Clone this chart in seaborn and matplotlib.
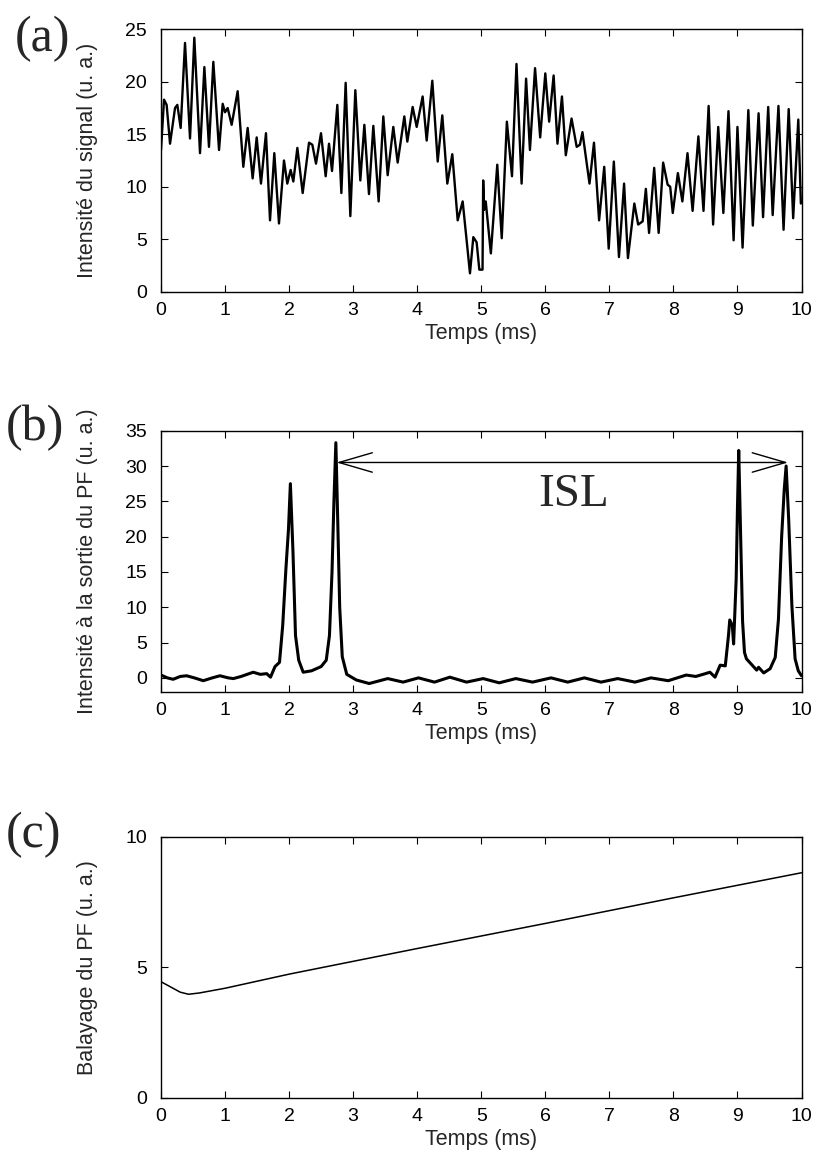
import numpy as np
import pandas as pd
import matplotlib
matplotlib.use("Agg")
import matplotlib.pyplot as plt
import seaborn as sns

# ---------------- data ----------------
# Panel (a): signal intensity, local extrema
t_a = [0.000, 0.047, 0.088, 0.141, 0.219, 0.255, 0.307, 0.375, 0.453, 0.520,
       0.609, 0.677, 0.749, 0.817, 0.906, 0.963, 0.999, 1.041, 1.103, 1.197,
       1.285, 1.353, 1.431, 1.494, 1.561, 1.639, 1.702, 1.769, 1.842, 1.920,
       1.972, 2.024, 2.066, 2.129, 2.212, 2.311, 2.363, 2.420, 2.498, 2.571,
       2.623, 2.670, 2.753, 2.816, 2.883, 2.956, 3.034, 3.112, 3.175, 3.247,
       3.315, 3.398, 3.471, 3.539, 3.627, 3.695, 3.799, 3.846, 3.929, 3.992,
       4.085, 4.148, 4.236, 4.320, 4.392, 4.470, 4.548, 4.632, 4.710, 4.824,
       4.876, 4.928, 4.970, 5.020, 5.030, 5.045, 5.070, 5.150, 5.250, 5.320,
       5.400, 5.480, 5.550, 5.630, 5.700, 5.760, 5.840, 5.920, 6.000, 6.060,
       6.130, 6.190, 6.260, 6.320, 6.410, 6.490, 6.540, 6.580, 6.690, 6.760,
       6.840, 6.920, 6.990, 7.070, 7.150, 7.230, 7.290, 7.390, 7.450, 7.520,
       7.570, 7.620, 7.700, 7.770, 7.840, 7.910, 7.950, 7.990, 8.070, 8.140,
       8.220, 8.300, 8.390, 8.470, 8.550, 8.620, 8.700, 8.780, 8.860, 8.940,
       9.000, 9.080, 9.170, 9.240, 9.330, 9.400, 9.480, 9.550, 9.640, 9.720,
       9.800, 9.870, 9.950, 9.990]
v_a = [13.5, 18.3, 17.8, 14.1, 17.5, 17.8, 15.6, 23.7, 14.6, 24.2,
       13.2, 21.4, 13.8, 21.9, 13.5, 17.9, 17.1, 17.5, 15.9, 19.1,
       11.9, 15.6, 10.8, 14.7, 10.3, 15.1, 6.8, 13.2, 6.5, 12.5,
       10.3, 11.6, 10.5, 13.7, 9.4, 14.2, 14.0, 12.2, 15.1, 11.0,
       14.1, 11.5, 17.8, 9.4, 19.9, 7.2, 19.2, 10.6, 15.9, 9.3,
       15.8, 8.6, 16.7, 11.1, 15.7, 12.3, 16.7, 14.3, 17.6, 15.7,
       18.6, 14.4, 20.1, 12.4, 16.8, 10.3, 13.1, 6.8, 8.6, 1.75,
       5.2, 4.7, 2.1, 2.1, 10.6, 7.8, 8.6, 3.65, 12.1, 5.1,
       16.2, 11.0, 21.7, 10.3, 20.3, 13.5, 21.3, 14.7, 20.8, 16.2,
       20.6, 14.1, 18.6, 13.0, 16.5, 13.8, 14.0, 15.2, 10.3, 14.2,
       6.8, 11.9, 4.1, 12.4, 3.3, 10.3, 3.2, 8.4, 6.4, 6.7,
       9.8, 5.6, 11.8, 5.6, 12.3, 10.2, 10.0, 7.5, 11.3, 8.6,
       13.2, 7.7, 14.8, 7.7, 17.7, 6.4, 15.7, 7.5, 17.2, 4.9,
       15.7, 4.2, 17.3, 6.3, 17.0, 7.1, 17.6, 7.3, 17.7, 5.9,
       17.4, 7.0, 16.4, 8.4]

# Panel (b): Fabry-Perot output intensity
t_b = [0.00, 0.10, 0.19, 0.30, 0.40, 0.52, 0.66, 0.80, 0.92, 1.05,
       1.13, 1.25, 1.44, 1.55, 1.65, 1.71, 1.78, 1.85, 1.90, 1.95,
       1.99, 2.02, 2.06, 2.10, 2.15, 2.22, 2.35, 2.50, 2.58, 2.63,
       2.67, 2.70, 2.73, 2.76, 2.79, 2.83, 2.90, 3.05, 3.25, 3.54,
       3.78, 4.02, 4.27, 4.51, 4.77, 5.03, 5.28, 5.54, 5.80, 6.09,
       6.35, 6.61, 6.87, 7.13, 7.40, 7.65, 7.92, 8.20, 8.35, 8.50,
       8.57, 8.65, 8.73, 8.81, 8.86, 8.88, 8.92, 8.94, 8.98, 9.00,
       9.02, 9.05, 9.08, 9.11, 9.14, 9.25, 9.30, 9.33, 9.41, 9.51,
       9.59, 9.64, 9.69, 9.73, 9.76, 9.80, 9.85, 9.90, 9.95, 10.00]
v_b = [0.4, 0.0, -0.2, 0.2, 0.3, 0.0, -0.4, 0.0, 0.3, 0.0,
       -0.1, 0.2, 0.8, 0.5, 0.6, 0.1, 1.6, 2.2, 7.4, 15.4,
       21.0, 27.5, 18.0, 6.0, 2.5, 0.8, 1.0, 1.6, 2.5, 6.0,
       15.0, 25.0, 33.3, 22.0, 10.0, 3.0, 0.5, -0.3, -0.8, -0.1,
       -0.6, 0.0, -0.6, 0.1, -0.6, -0.1, -0.7, -0.1, -0.6, 0.0,
       -0.6, 0.0, -0.6, -0.1, -0.6, 0.0, -0.4, 0.4, 0.2, 0.6,
       0.8, 0.1, 1.8, 1.7, 6.0, 8.2, 7.4, 4.8, 14.0, 24.0,
       32.2, 20.0, 8.0, 3.6, 2.7, 1.6, 1.1, 1.5, 0.7, 1.3,
       2.9, 8.3, 20.0, 26.6, 30.0, 22.4, 10.2, 2.7, 1.0, 0.3]

# Panel (c): Fabry-Perot sweep
t_c = [0.0, 0.15, 0.30, 0.43, 0.60, 1.0, 2.0, 4.0, 6.0, 8.0, 10.0]
v_c = [4.45, 4.25, 4.05, 3.97, 4.02, 4.20, 4.74, 5.72, 6.68, 7.66, 8.62]

# Annotation: free spectral range arrow
isl_t = [2.74, 9.79]
isl_v = 30.5

panel_labels = ["(a)", "(b)", "(c)"]
ylabels = ["Intensité du signal (u. a.)",
           "Intensité à la sortie du PF (u. a.)",
           "Balayage du PF (u. a.)"]
xlabel = "Temps (ms)"
yticks = [[0, 5, 10, 15, 20, 25], [0, 5, 10, 15, 20, 25, 30, 35], [0, 5, 10]]
ylims = [(0, 25), (-2, 35), (0, 10)]
xticks = list(range(0, 11))

# ---------------- style ----------------
sns.set_theme(style="ticks")
plt.rcParams["font.family"] = ["Liberation Sans", "DejaVu Sans"]
plt.rcParams["axes.linewidth"] = 1.0
plt.rcParams["axes.edgecolor"] = "black"

fig = plt.figure(figsize=(8.21, 11.64), dpi=100)
left, width = 161 / 821, (801.5 - 161) / 821
boxes = [(29.3, 291.7), (430.7, 692.0), (836.7, 1098.0)]
axes = []
for top, bot in boxes:
    axes.append(fig.add_axes([left, 1 - bot / 1164, width, (bot - top) / 1164]))

dfs = [pd.DataFrame({"t": t_a, "v": v_a}),
       pd.DataFrame({"t": t_b, "v": v_b}),
       pd.DataFrame({"t": t_c, "v": v_c})]
lws = [1.7, 2.2, 1.1]

for i, ax in enumerate(axes):
    sns.lineplot(data=dfs[i], x="t", y="v", ax=ax, color="black",
                 linewidth=lws[i], estimator=None, sort=False)
    ax.set_xlim(0, 10)
    ax.set_ylim(*ylims[i])
    ax.set_xticks(xticks)
    ax.set_yticks(yticks[i])
    ax.tick_params(direction="in", top=True, right=True, length=5,
                   width=0.8, labelsize=14, colors="black")
    ax.tick_params(axis="x", pad=7.5)
    ax.tick_params(axis="y", pad=10)
    for s in ax.spines.values():
        s.set_visible(True)
        s.set_color("black")
    ax.set_xlabel(xlabel, fontsize=15.5, va="center")
    ax.set_ylabel(ylabels[i], fontsize=15.5, va="center")
    h = boxes[i][1] - boxes[i][0]
    ax.xaxis.set_label_coords(0.5, -42 / h)
    ax.yaxis.set_label_coords((88 - 161) / 640.5, 0.5)

# panel letters
letter_pos = [(42, 39), (35, 428), (33, 835)]
for lab, (px, py) in zip(panel_labels, letter_pos):
    fig.text(px / 821, 1 - py / 1164, lab, fontsize=36,
             family=["Liberation Serif", "DejaVu Serif"],
             ha="center", va="center")

# ISL arrow and label
axb = axes[1]
axb.annotate("", xy=(isl_t[1], isl_v), xytext=(isl_t[0], isl_v),
             arrowprops=dict(arrowstyle="<->,head_length=1.2,head_width=0.35",
                             mutation_scale=20, color="black", lw=1.0,
                             shrinkA=0, shrinkB=0))
axb.text(6.45, 25.9, "ISL", fontsize=34,
         family=["Liberation Serif", "DejaVu Serif"], ha="center", va="center")

fig.savefig("out.png", dpi=100)
